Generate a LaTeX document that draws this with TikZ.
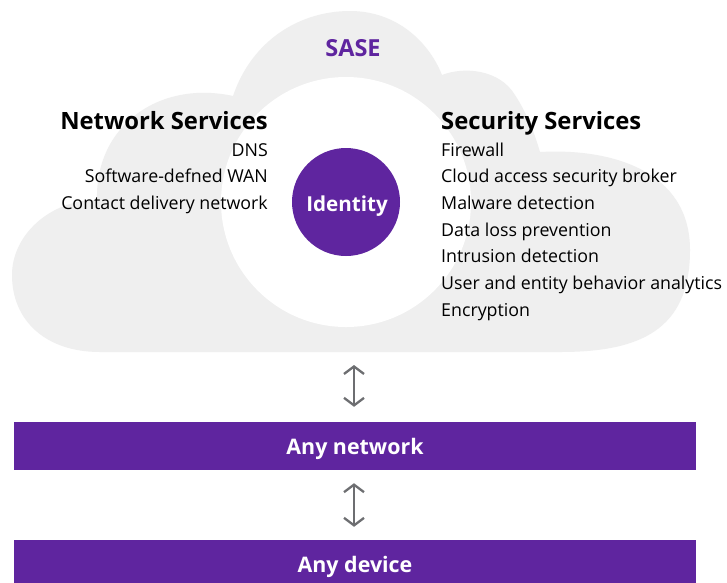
\documentclass[tikz,border=0pt]{standalone}
\usepackage{fontspec}
\setmainfont{Open Sans}
\usetikzlibrary{arrows.meta}
\definecolor{sasepurple}{HTML}{5F259F}
\definecolor{cloudgray}{HTML}{EFEFEF}
\definecolor{arrowgray}{HTML}{6D6E71}
\tikzset{
  px/.style={x=1pt,y=-1pt},
  head/.style={font=\fontsize{23.8}{28}\selectfont\bfseries, inner sep=0pt},
  item/.style={font=\fontsize{17.8}{21}\selectfont, inner sep=0pt},
  bar/.style={fill=sasepurple, minimum width=682pt, minimum height=48pt, inner sep=0pt},
  bartext/.style={text=white, font=\fontsize{21.4}{24}\selectfont\bfseries, inner sep=0pt, anchor=base},
  dbl/.style={draw=arrowgray, line width=2.3pt, {Straight Barb[length=7.5pt,width=20pt,line width=2.3pt]}-{Straight Barb[length=7.5pt,width=20pt,line width=2.3pt]}},
}
\begin{document}
\begin{tikzpicture}[px]
\useasboundingbox (0,0) rectangle (727,582);
\clip (0,0) rectangle (727,582);
\fill[white] (0,0) rectangle (727,582);
% cloud
\fill[cloudgray] (100,352)
  .. controls (45,352) and (12,320) .. (12,275)
  .. controls (12,235) and (50,200) .. (97,200)
  .. controls (95,125) and (160,80) .. (233,96)
  .. controls (252,40) and (300,11) .. (350,11)
  .. controls (395,11) and (428,40) .. (442,75)
  .. controls (465,66) and (500,70) .. (515,95)
  .. controls (528,115) and (535,135) .. (540,152)
  .. controls (610,148) and (690,170) .. (690,250)
  .. controls (690,330) and (640,352) .. (560,352)
  -- cycle;
\fill[white] (346,202) circle[radius=125];
\coordinate (cloudbot) at (354,352);
% identity
\node[circle, fill=sasepurple, minimum size=108pt, inner sep=0pt] (id) at (346,202) {};
\node[text=white, font=\fontsize{20.6}{24}\selectfont\bfseries, inner sep=0pt, anchor=base] (idt) at (347,211.7) {Identity};
\node[text=sasepurple, font=\fontsize{23.5}{26}\selectfont\bfseries, inner sep=0pt, anchor=base] (sase) at (353,56) {SASE};
% network services
\node[head, anchor=base east] (nsh) at (268,129.5) {Network Services};
\node[item, anchor=base east] (ns1) at (268,156) {DNS};
\node[item, anchor=base east] (ns2) at (268,182.7) {Software-defned WAN};
\node[item, anchor=base east] (ns3) at (268,209.3) {Contact delivery network};
% security services
\node[head, anchor=base west] (ssh) at (441,129.5) {Security Services};
\node[item, anchor=base west] (ss1) at (441,156) {Firewall};
\node[item, anchor=base west] (ss2) at (441,182.7) {Cloud access security broker};
\node[item, anchor=base west] (ss3) at (441,209.3) {Malware detection};
\node[item, anchor=base west] (ss4) at (441,236) {Data loss prevention};
\node[item, anchor=base west] (ss5) at (441,262.6) {Intrusion detection};
\node[item, anchor=base west] (ss6) at (441,289.3) {User and entity behavior analytics};
\node[item, anchor=base west] (ss7) at (441,316) {Encryption};
% bars
\node[bar] (net) at (355,446) {};
\node[bartext] (nett) at (355,454) {Any network};
\node[bar] (dev) at (355,564) {};
\node[bartext] (devt) at (355,572.7) {Any device};
% arrows
\draw[dbl, shorten <=13pt, shorten >=15pt] (cloudbot) -- (cloudbot |- net.north);
\draw[dbl, shorten <=13pt, shorten >=13pt] (net.south -| cloudbot) -- (dev.north -| cloudbot);
\end{tikzpicture}
\end{document}
